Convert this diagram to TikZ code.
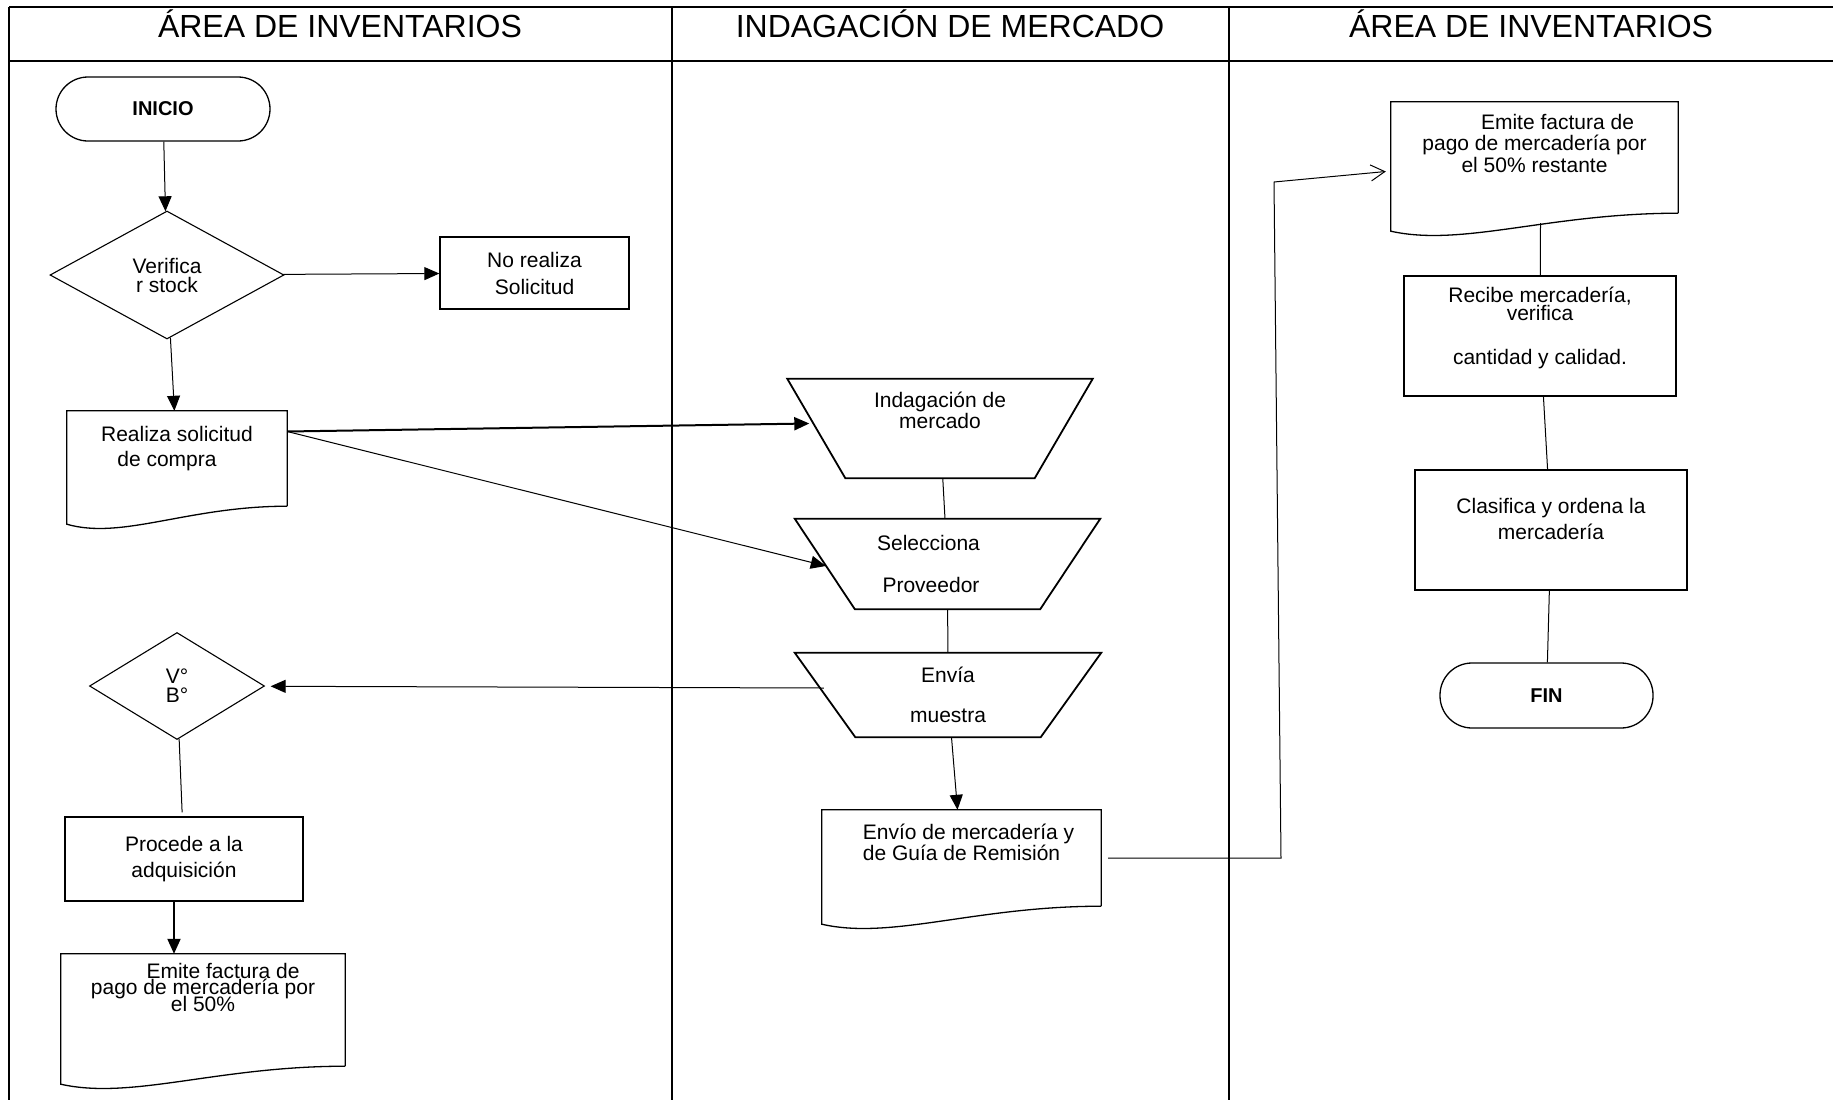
\documentclass[tikz,border=0pt]{standalone}
\usepackage{fontspec}
\setmainfont{Liberation Sans}
\usetikzlibrary{shapes.geometric,arrows.meta,positioning,calc}

\tikzset{
  every node/.style={font=\fontsize{21}{25}\selectfont, inner sep=0pt},
  lane/.style={line width=2.2pt},
  lanetitle/.style={font=\fontsize{32}{38}\selectfont, anchor=base},
  term/.style={draw, line width=1.3pt, rounded corners=32pt, font=\bfseries\fontsize{20}{24}\selectfont},
  proc/.style={draw, line width=1.3pt, align=center},
  decide/.style={draw, diamond, line width=1.1pt, align=center},
  manual/.style={rectangle, align=center},
  trapline/.style={line width=1.8pt, line join=miter},
  docbox/.style={rectangle},
  docline/.style={line width=1.3pt},
  txt/.style={align=center},
  flow/.style={line width=1pt, -{Triangle[length=15pt,width=13pt]}},
  link/.style={line width=1pt},
}

% outline of a document shape round a node
\newcommand\docframe[1]{%
  \draw[docline] (#1.south east) -- (#1.north east) -- (#1.north west) -- ($(#1.south west)+(0,18)$)
    .. controls ($(#1.south west)!0.25!(#1.south east)+(0,34)$) and ($(#1.south west)!0.55!(#1.south east)$) .. (#1.south east);
}
% outline of a manual operation (wide top) round a node
\newcommand\trapframe[2]{%
  \draw[trapline] (#1.north west) -- (#1.north east) -- ($(#1.south east)+(-#2,0)$) -- ($(#1.south west)+(#2,0)$) -- cycle;
}

\begin{document}
\begin{tikzpicture}[x=1pt,y=-1pt]
  \useasboundingbox (0,0) rectangle (1833,1100);
  % lanes
  \draw[lane] (9,7) -- (1833,7);
  \draw[lane] (9,61) -- (1833,61);
  \draw[lane] (9,7) -- (9,1100);
  \draw[lane] (672,7) -- (672,1100);
  \draw[lane] (1229,7) -- (1229,1100);
  \node[lanetitle] (h1) at (340,37) {ÁREA DE INVENTARIOS};
  \node[lanetitle] (h2) at (950,37) {INDAGACIÓN DE MERCADO};
  \node[lanetitle] (h3) at (1531,37) {ÁREA DE INVENTARIOS};

  % left lane
  \node[term, minimum width=214pt, minimum height=64pt] (inicio) at (163,109) {INICIO};
  \node[decide, minimum width=234pt, minimum height=128pt] (ver) at (167,275) {Verifica\\[-6pt]r stock};
  \node[proc, minimum width=189pt, minimum height=72pt] (nor) at (534.5,273) {No realiza\\[2pt]Solicitud};
  \node[docbox, minimum width=220pt, minimum height=95pt] (sol) at (177,458.5) {};
  \node[txt, below=15pt of sol.north] (sol-t) {Realiza solicitud\\de compra\hspace*{20pt}};
  \node[decide, minimum width=175pt, minimum height=107pt] (vb) at (177,686) {V°\\[-6pt]B°};
  \node[proc, minimum width=238pt, minimum height=84pt] (proce) at (184,859) {Procede a la\\[1pt]adquisición};
  \node[docbox, minimum width=284pt, minimum height=112pt] (emi1) at (203,1010) {};
  \node[txt, below=9pt of emi1.north] (emi1-t) {\hspace*{40pt}Emite factura de\\[-8.5pt]pago de mercadería por\\[-8.5pt]el 50\%};

  % middle lane
  \node[manual, minimum width=305pt, minimum height=99pt] (ind) at (940,428.5) {};
  \node[txt, below=13pt of ind.north] (ind-t) {Indagación de\\[-4pt]mercado};
  \node[manual, minimum width=305pt, minimum height=90pt] (sel) at (947.5,564) {Selecciona\hspace*{38pt}\\[17pt]Proveedor\hspace*{33pt}};
  \node[manual, minimum width=306pt, minimum height=84pt] (envm) at (948,695) {Envía\\[15pt]muestra};
  \node[docbox, minimum width=279pt, minimum height=96pt] (env) at (961.5,858) {};
  \node[txt, below=14pt of env.north] (env-t) {\hspace*{14pt}Envío de mercadería y\\[-4pt]de Guía de Remisión};

  % right lane
  \node[docbox, minimum width=287pt, minimum height=111pt] (emi2) at (1534.5,157.5) {};
  \node[txt, below=12pt of emi2.north] (emi2-t) {\hspace*{46pt}Emite factura de\\[-3.5pt]pago de mercadería por\\[-3.5pt]el 50\% restante};
  \node[proc, minimum width=272pt, minimum height=120pt] (rec) at (1540,336) {};
  \node[txt, below=11pt of rec.north] (rec-t) {Recibe mercadería,\\[-7pt]verifica\\[19pt]cantidad y calidad.};
  \node[proc, minimum width=272pt, minimum height=120pt] (cla) at (1551,530) {};
  \node[txt, below=29pt of cla.north] (cla-t) {Clasifica y ordena la\\[1pt]mercadería};
  \node[term, minimum width=213pt, minimum height=65pt] (fin) at (1546.5,695.5) {FIN};

  \docframe{sol}
  \docframe{emi1}
  \docframe{env}
  \docframe{emi2}
  \trapframe{ind}{58}
  \trapframe{sel}{60}
  \trapframe{envm}{60.5}

  % points on the slanted sides
  \coordinate (ind-l) at ($(ind.west)+(22,-5)$);
  \coordinate (sel-l) at ($(sel.west)+(31,2)$);
  \coordinate (envm-l) at ($(envm.west)+(29,-7)$);

  % connectors
  \draw[flow] (inicio) -- (ver);
  \draw[flow] (ver) -- (nor);
  \draw[flow] (ver) -- (sol);
  \draw[flow, line width=2pt] ([yshift=27pt]sol.east) -- (ind-l);
  \draw[flow] ([yshift=27pt]sol.east) -- (sel-l);
  \draw[link] (ind) -- (sel);
  \draw[link] (sel) -- (envm);
  \draw[flow] (envm) -- (env);
  \draw[flow, shorten >=6pt] (envm-l) -- (vb);
  \draw[link, shorten >=4pt] (vb) -- (proce);
  \draw[flow, line width=2pt] ([xshift=-10pt]proce.south) -- ([xshift=-10pt]proce.south |- emi1.north);
  \coordinate (b1) at (1281,858);
  \coordinate (b2) at (1274,182);
  \draw[link, -{Straight Barb[length=14pt,width=16pt]}] ([xshift=7pt]env.east) -- (b1) -- (b2) -- ([shift={(-5pt,-14pt)}]emi2.west);
  \draw[link] ([xshift=6pt,yshift=-10pt]emi2.south) -- (rec);
  \draw[link] (rec) -- (cla);
  \draw[link] (cla) -- (fin);
\end{tikzpicture}
\end{document}
